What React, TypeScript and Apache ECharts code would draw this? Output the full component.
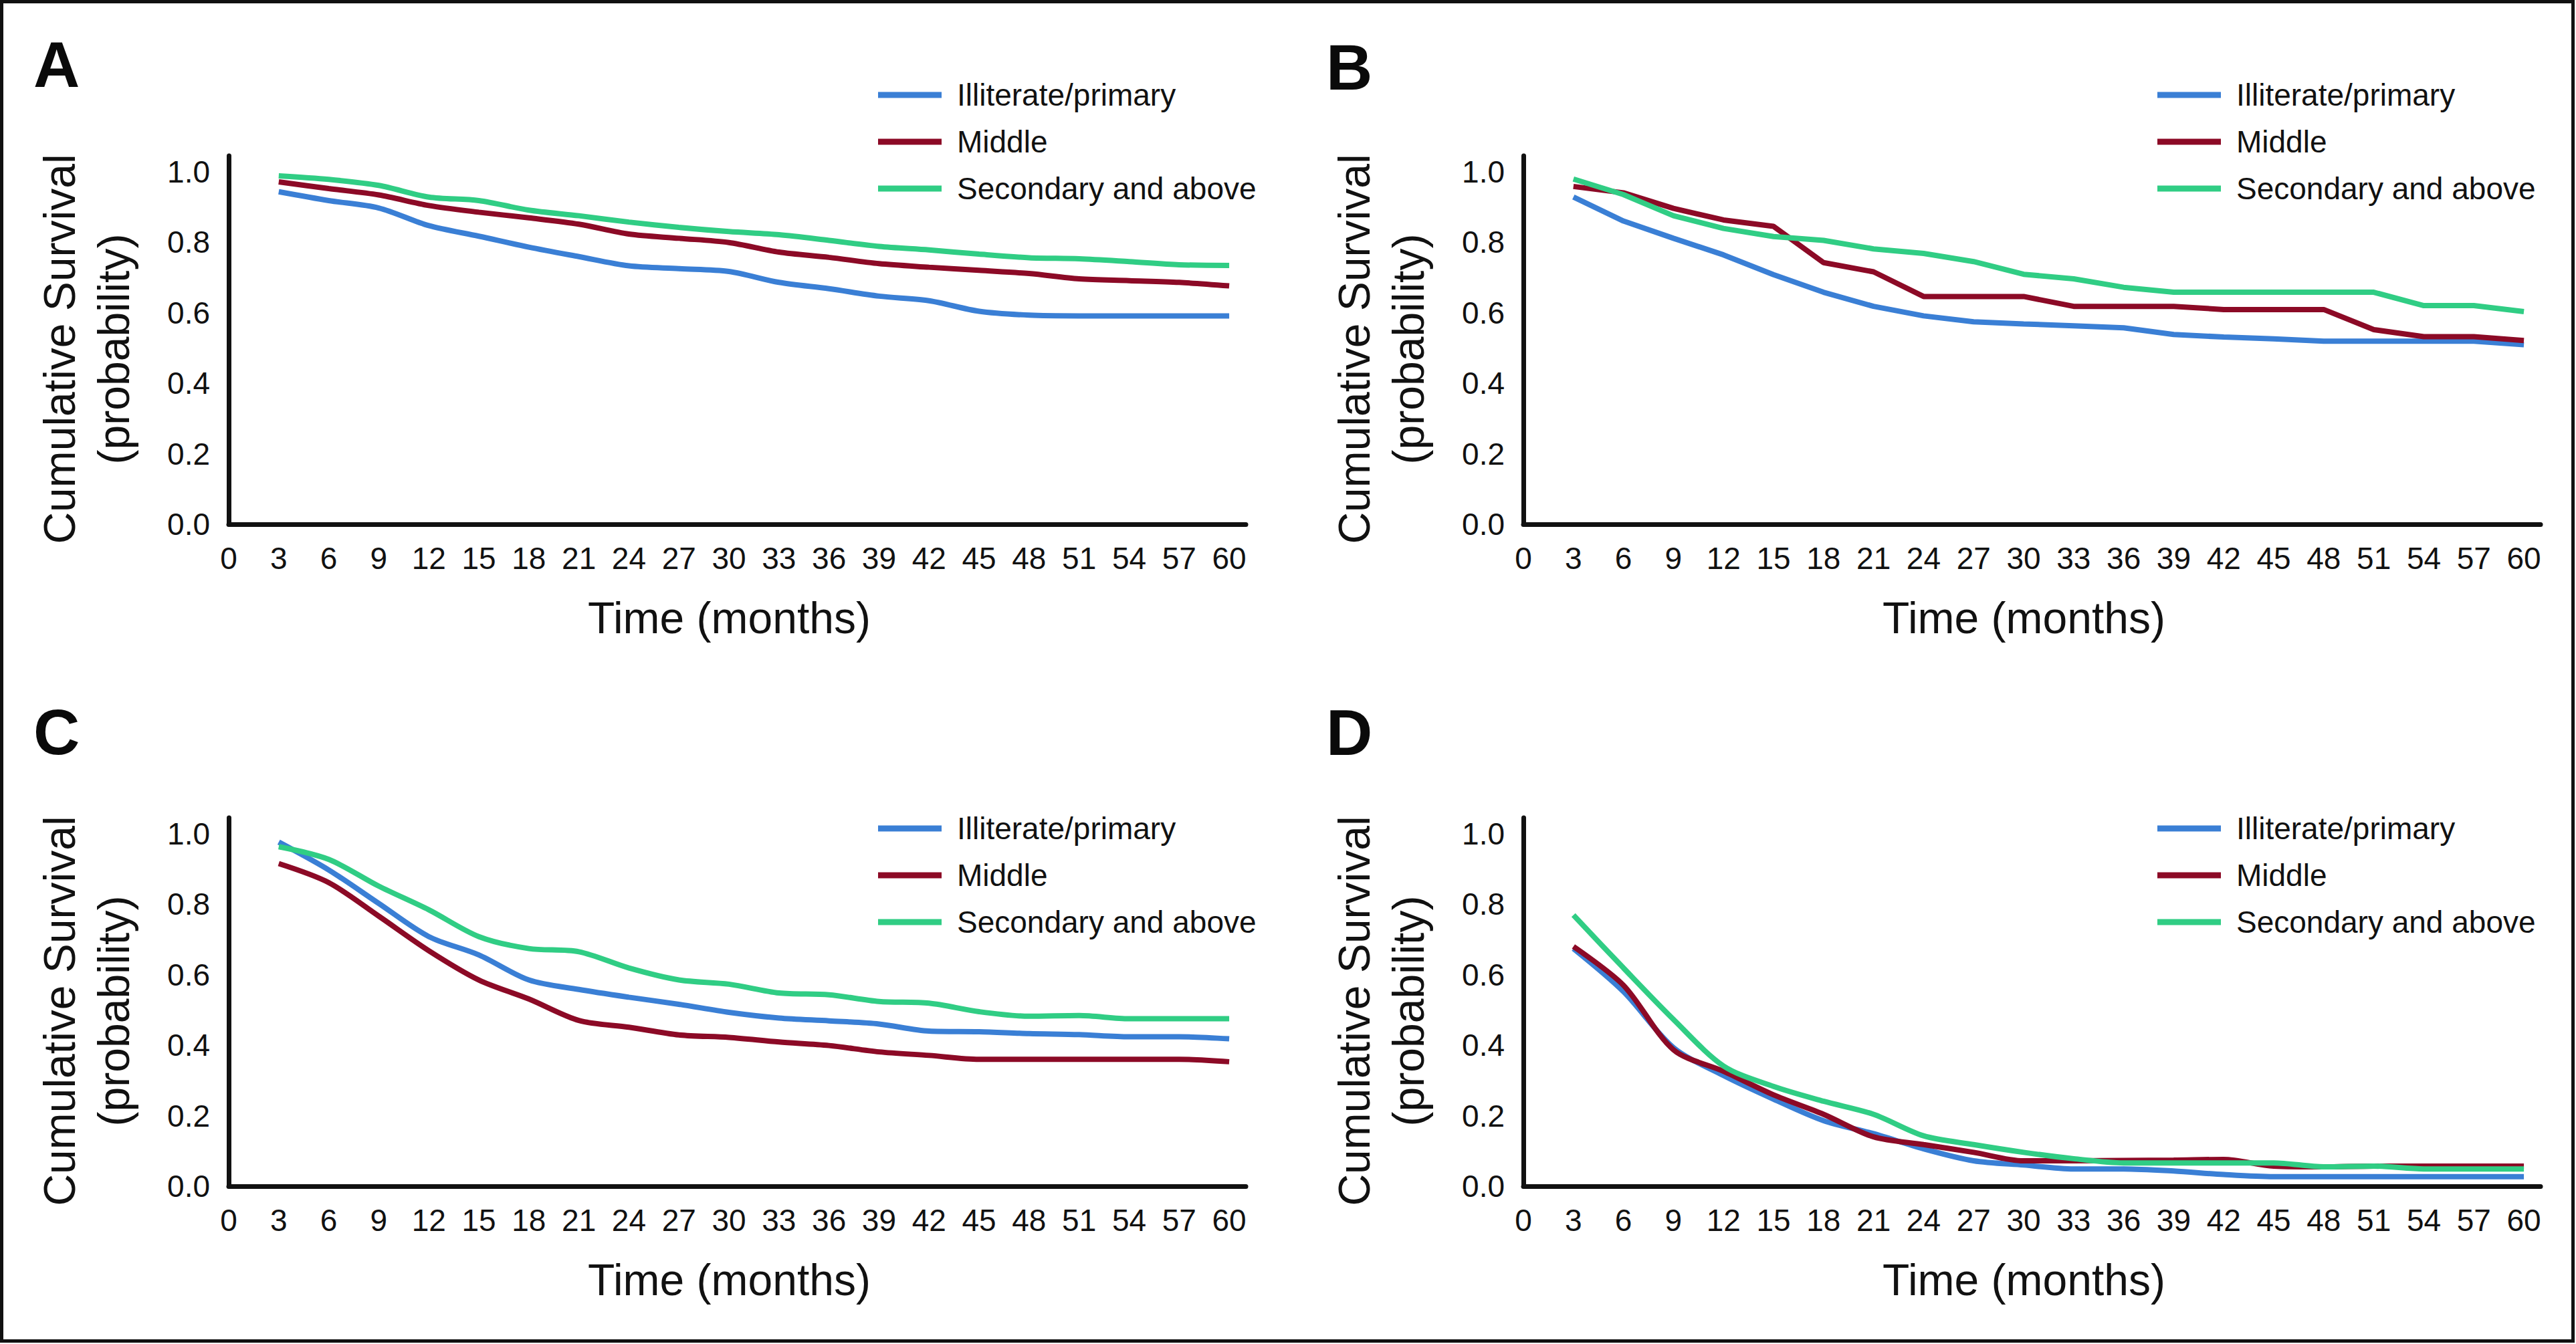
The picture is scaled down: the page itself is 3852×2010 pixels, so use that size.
import React, { useEffect, useRef } from "react";
import * as echarts from "echarts";

// ---------- data ----------
const months = [3, 6, 9, 12, 15, 18, 21, 24, 27, 30, 33, 36, 39, 42, 45, 48, 51, 54, 57, 60];
const seriesNames = ["Illiterate/primary", "Middle", "Secondary and above"];
const xTickLabels = ["0", "3", "6", "9", "12", "15", "18", "21", "24", "27", "30", "33", "36", "39", "42", "45", "48", "51", "54", "57", "60"];
const yTickLabels = ["0.0", "0.2", "0.4", "0.6", "0.8", "1.0"];
const panelLetters = ["A", "B", "C", "D"];

// Panel A
const aIlliterate = [0.943, 0.918, 0.897, 0.847, 0.817, 0.786, 0.759, 0.733, 0.725, 0.717, 0.686, 0.668, 0.647, 0.634, 0.604, 0.593, 0.591, 0.591, 0.591, 0.591];
const aMiddle = [0.971, 0.952, 0.934, 0.904, 0.885, 0.869, 0.851, 0.823, 0.811, 0.799, 0.772, 0.757, 0.739, 0.729, 0.72, 0.711, 0.696, 0.691, 0.686, 0.676];
const aSecondary = [0.988, 0.978, 0.961, 0.928, 0.918, 0.891, 0.875, 0.857, 0.842, 0.83, 0.821, 0.805, 0.788, 0.778, 0.766, 0.756, 0.753, 0.745, 0.736, 0.734];
// Panel B
const bIlliterate = [0.928, 0.86, 0.811, 0.764, 0.708, 0.658, 0.618, 0.591, 0.574, 0.568, 0.563, 0.557, 0.538, 0.531, 0.526, 0.519, 0.519, 0.519, 0.519, 0.509];
const bMiddle = [0.958, 0.94, 0.896, 0.863, 0.845, 0.742, 0.716, 0.646, 0.646, 0.646, 0.618, 0.618, 0.618, 0.609, 0.609, 0.609, 0.552, 0.532, 0.532, 0.521];
const bSecondary = [0.979, 0.935, 0.875, 0.839, 0.816, 0.805, 0.781, 0.768, 0.745, 0.709, 0.696, 0.672, 0.658, 0.658, 0.658, 0.658, 0.658, 0.62, 0.62, 0.603];
// Panel C
const cIlliterate = [0.976, 0.897, 0.802, 0.708, 0.656, 0.585, 0.558, 0.536, 0.516, 0.493, 0.477, 0.469, 0.46, 0.44, 0.438, 0.433, 0.43, 0.424, 0.424, 0.418];
const cMiddle = [0.915, 0.861, 0.766, 0.668, 0.585, 0.531, 0.47, 0.451, 0.429, 0.422, 0.409, 0.399, 0.381, 0.371, 0.36, 0.36, 0.36, 0.36, 0.36, 0.353];
const cSecondary = [0.963, 0.927, 0.851, 0.784, 0.708, 0.674, 0.665, 0.619, 0.585, 0.573, 0.548, 0.543, 0.524, 0.519, 0.495, 0.482, 0.484, 0.475, 0.475, 0.475];
// Panel D
const dIlliterate = [0.674, 0.552, 0.393, 0.314, 0.247, 0.186, 0.149, 0.106, 0.072, 0.06, 0.049, 0.049, 0.043, 0.033, 0.027, 0.027, 0.027, 0.027, 0.027, 0.027];
const dMiddle = [0.68, 0.57, 0.387, 0.326, 0.259, 0.204, 0.14, 0.118, 0.096, 0.072, 0.072, 0.073, 0.074, 0.076, 0.057, 0.055, 0.057, 0.057, 0.057, 0.057];
const dSecondary = [0.769, 0.619, 0.473, 0.341, 0.283, 0.241, 0.204, 0.143, 0.118, 0.096, 0.078, 0.066, 0.066, 0.066, 0.066, 0.055, 0.057, 0.049, 0.049, 0.049];

const panelValues = [
  [aIlliterate, aMiddle, aSecondary],
  [bIlliterate, bMiddle, bSecondary],
  [cIlliterate, cMiddle, cSecondary],
  [dIlliterate, dMiddle, dSecondary],
];

// ---------- styling / layout ----------
const COLORS = ["#3A7FD5", "#8C0A26", "#30CD84"];
const FONT = "'Liberation Sans', Arial, Helvetica, sans-serif";
const INK = "#111111";
const W = 3852;
const H = 2010;

const layout = [
  { left: 342, top: 233, legendLeft: 1313, legendTop: 119, letterX: 50, letterY: 96, smooth: 0.3 },
  { left: 2278, top: 233, legendLeft: 3226, legendTop: 119, letterX: 1983, letterY: 100, smooth: false },
  { left: 342, top: 1223, legendLeft: 1313, legendTop: 1216, letterX: 50, letterY: 1094, smooth: 0.3 },
  { left: 2278, top: 1223, legendLeft: 3226, legendTop: 1216, letterX: 1983, letterY: 1095, smooth: 0.3 },
];
const GRID_W = 1521;
const GRID_H = 551;

function buildOption() {
  const grid: any[] = [];
  const xAxis: any[] = [];
  const yAxis: any[] = [];
  const series: any[] = [];
  const legend: any[] = [];
  const graphic: any[] = [];

  layout.forEach((p, i) => {
    grid.push({ left: p.left, top: p.top, width: GRID_W, height: GRID_H, containLabel: false, outerBoundsMode: "none" });
    xAxis.push({
      type: "value",
      gridIndex: i,
      min: 0,
      max: 61,
      interval: 3,
      name: "Time (months)",
      nameLocation: "middle",
      nameGap: 107,
      nameTextStyle: { fontSize: 66, fontFamily: FONT, color: INK, padding: [0, 24, 0, 0] },
      axisLine: { show: true, onZero: false, lineStyle: { color: INK, width: 7 } },
      axisTick: { show: false },
      splitLine: { show: false },
      axisLabel: {
        margin: 28,
        fontSize: 46,
        fontFamily: FONT,
        color: INK,
        formatter: (v: number) => {
          const idx = xTickLabels.indexOf(String(Math.round(v)));
          return Math.abs(v - Math.round(v)) < 1e-6 && idx >= 0 ? xTickLabels[idx] : "";
        },
      },
    });
    yAxis.push({
      type: "value",
      gridIndex: i,
      min: 0,
      max: 1.045,
      interval: 0.2,
      name: "Cumulative Survival\n(probability)",
      nameLocation: "middle",
      nameRotate: 90,
      nameGap: 132,
      nameTextStyle: { fontSize: 66, lineHeight: 81, fontFamily: FONT, color: INK, padding: [0, 27, 0, 0] },
      axisLine: { show: true, onZero: false, lineStyle: { color: INK, width: 7 } },
      axisTick: { show: false },
      splitLine: { show: false },
      axisLabel: {
        margin: 28,
        fontSize: 46,
        fontFamily: FONT,
        color: INK,
        formatter: (v: number) => {
          const k = Math.round(v * 5);
          return Math.abs(v * 5 - k) < 1e-6 && k >= 0 && k < yTickLabels.length ? yTickLabels[k] : "";
        },
      },
    });
    panelValues[i].forEach((vals, s) => {
      series.push({
        type: "line",
        name: seriesNames[s],
        xAxisIndex: i,
        yAxisIndex: i,
        data: months.map((m, j) => [m, vals[j]]),
        smooth: p.smooth,
        showSymbol: false,
        symbol: "none",
        lineStyle: { color: COLORS[s], width: 8 },
        itemStyle: { color: COLORS[s] },
        z: 2 + s,
      });
    });
    legend.push({
      orient: "vertical",
      left: p.legendLeft,
      top: p.legendTop,
      padding: 0,
      itemWidth: 95,
      itemHeight: 9,
      itemGap: 24,
      icon: "rect",
      selectedMode: false,
      data: seriesNames,
      textStyle: { fontSize: 46, lineHeight: 46, fontFamily: FONT, color: INK, padding: [0, 0, 0, 18] },
    });
    graphic.push({
      type: "text",
      left: undefined,
      x: p.letterX,
      y: p.letterY,
      style: {
        text: panelLetters[i],
        font: `bold 96px ${FONT}`,
        fill: "#0a0a0a",
        align: "left",
        verticalAlign: "middle",
      },
    });
  });

  return {
    animation: false,
    backgroundColor: "#ffffff",
    grid,
    xAxis,
    yAxis,
    series,
    legend,
    graphic,
  };
}

function Chart() {
  const ref = useRef<HTMLDivElement>(null);
  useEffect(() => {
    if (!ref.current) return;
    const chart = echarts.init(ref.current, undefined, { renderer: "svg", width: W, height: H });
    chart.setOption(buildOption());
    return () => chart.dispose();
  }, []);
  return <div ref={ref} style={{ width: W, height: H, position: "absolute", left: 0, top: 0 }} />;
}

export default function App() {
  return (
    <div style={{ position: "absolute", left: 0, top: 0, width: W, height: H, background: "#fff" }}>
      <Chart />
      <div
        style={{
          position: "absolute",
          left: 0,
          top: 0,
          width: 3850,
          height: 2008,
          border: "5px solid #111",
          boxSizing: "border-box",
          pointerEvents: "none",
        }}
      />
    </div>
  );
}
